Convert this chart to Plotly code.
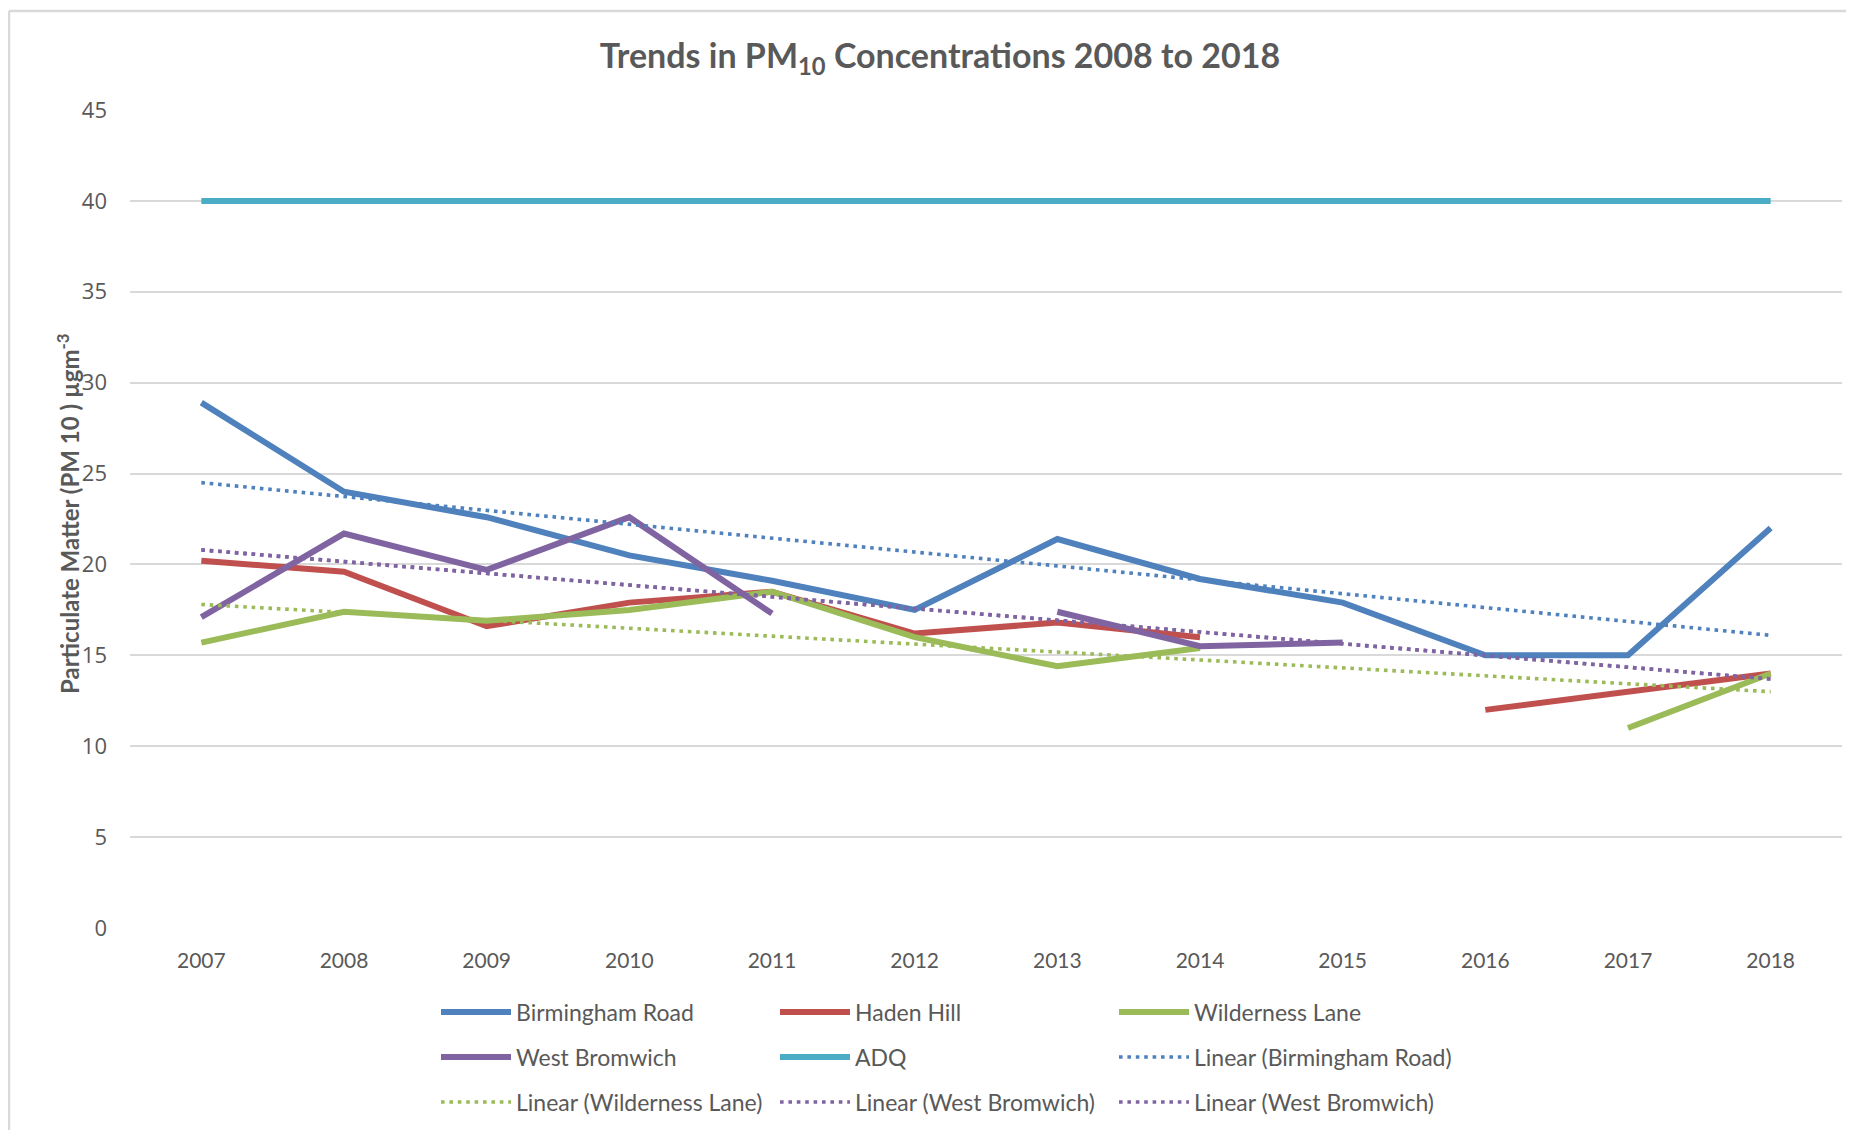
import plotly.graph_objects as go

# ---------------- data ----------------
years = ["2007", "2008", "2009", "2010", "2011", "2012",
         "2013", "2014", "2015", "2016", "2017", "2018"]

birmingham_road = [28.9, 24.0, 22.6, 20.5, 19.1, 17.5, 21.4, 19.2, 17.9, 15.0, 15.0, 22.0]
haden_hill      = [20.2, 19.6, 16.6, 17.9, 18.5, 16.2, 16.8, 16.0, None, 12.0, 13.0, 14.0]
wilderness_lane = [15.7, 17.4, 16.9, 17.5, 18.5, 16.0, 14.4, 15.4, None, None, 11.0, 14.0]
west_bromwich   = [17.1, 21.7, 19.7, 22.6, 17.3, None, 17.4, 15.5, 15.7, None, None, None]
adq             = [40, 40, 40, 40, 40, 40, 40, 40, 40, 40, 40, 40]

# linear trend lines (value at first year, value at last year)
trend_years = ["2007", "2018"]
trend_birmingham = [24.5, 16.1]
trend_wilderness = [17.8, 13.0]
trend_west_bromwich = [20.8, 13.7]

y_ticks = [0, 5, 10, 15, 20, 25, 30, 35, 40, 45]

# ---------------- style ----------------
BLUE = "#4F81BD"
RED = "#C0504D"
GREEN = "#9BBB59"
PURPLE = "#8064A2"
CYAN = "#4BACC6"
TEXT = "#595959"
GRID = "#D9D9D9"
FONT = "Lato, 'Open Sans', sans-serif"

OFF = 8  # browser body margin
W, H = 1854 - OFF, 1130 - OFF
# plot area in page pixels: x 130..1842, y 110..928
ML = 130 - OFF
MT = 110 - OFF
MR = W - (1842 - OFF)
MB = H - (928 - OFF)
PW, PH = W - ML - MR, H - MT - MB


def px_x(p):  # page px -> paper
    return (p - OFF - ML) / PW


def px_y(p):  # page px -> paper
    return (H - MB - (p - OFF)) / PH


def cx(p):  # page px -> container
    return (p - OFF) / W


def cy(p):  # page px -> container
    return 1 - (p - OFF) / H


fig = go.Figure()

solid = [
    ("Birmingham Road", birmingham_road, BLUE, "legend"),
    ("Haden Hill", haden_hill, RED, "legend"),
    ("Wilderness Lane", wilderness_lane, GREEN, "legend"),
    ("West Bromwich", west_bromwich, PURPLE, "legend2"),
    ("ADQ", adq, CYAN, "legend2"),
]
for name, vals, col, lg in solid:
    fig.add_trace(go.Scatter(
        x=years, y=vals, name=name, mode="lines",
        line=dict(color=col, width=6), connectgaps=False,
        legend=lg,
    ))

trends = [
    ("Linear (Birmingham Road)", trend_birmingham, BLUE, "legend2"),
    ("Linear (Wilderness Lane)", trend_wilderness, GREEN, "legend3"),
    ("Linear (West Bromwich)", trend_west_bromwich, PURPLE, "legend3"),
    ("Linear (West Bromwich)", trend_west_bromwich, PURPLE, "legend3"),
]
for name, vals, col, lg in trends:
    fig.add_trace(go.Scatter(
        x=trend_years, y=vals, name=name, mode="lines",
        line=dict(color=col, width=3.6, dash="3.6px,4.8px"),
        legend=lg,
    ))

legend_common = dict(
    orientation="h", xanchor="left", yanchor="middle",
    xref="container", yref="container",
    x=cx(436), bgcolor="rgba(0,0,0,0)",
    font=dict(family=FONT, size=23, color=TEXT),
    entrywidth=254, entrywidthmode="pixels",
    itemwidth=70,
)

fig.update_layout(
    width=W, height=H,
    margin=dict(l=ML, r=MR, t=MT, b=MB, autoexpand=False),
    paper_bgcolor="white", plot_bgcolor="white",
    title=dict(
        text="<b>Trends in PM<sub>10</sub> Concentrations 2008 to 2018</b>",
        x=cx(940), xanchor="center", xref="container",
        y=cy(56), yanchor="middle", yref="container",
        font=dict(family=FONT, size=34, color=TEXT),
    ),
    legend=dict(legend_common, y=cy(1012)),
    legend2=dict(legend_common, y=cy(1057)),
    legend3=dict(legend_common, y=cy(1102)),
    xaxis=dict(
        type="category", range=[-0.5, 11.5],
        showgrid=False, zeroline=False,
        showline=False, ticks="",
        tickfont=dict(family=FONT, size=21, color=TEXT),
        ticklabelstandoff=18,
    ),
    yaxis=dict(
        range=[0, 45], tickvals=y_ticks,
        showgrid=True, gridcolor=GRID, gridwidth=1.5,
        zeroline=False, showline=False, ticks="",
        tickfont=dict(family="'Open Sans', sans-serif", size=22, color=TEXT),
        ticklabelstandoff=22,
    ),
    annotations=[
        dict(
            text="<b>Particulate Matter (PM 10 ) µgm<sup>-3</sup></b>",
            xref="paper", yref="paper",
            x=px_x(68), y=px_y(514), xanchor="center", yanchor="middle",
            textangle=-90, showarrow=False,
            font=dict(family=FONT, size=24, color=TEXT),
        )
    ],
    showlegend=True,
    shapes=[
        dict(type="line", xref="paper", yref="paper",
             x0=px_x(9), x1=px_x(9), y0=px_y(11), y1=px_y(1140),
             line=dict(color=GRID, width=2.5)),
        dict(type="line", xref="paper", yref="paper",
             x0=px_x(9), x1=px_x(1860), y0=px_y(11), y1=px_y(11),
             line=dict(color=GRID, width=2.5)),
    ],
)

fig.write_html("out.html")
